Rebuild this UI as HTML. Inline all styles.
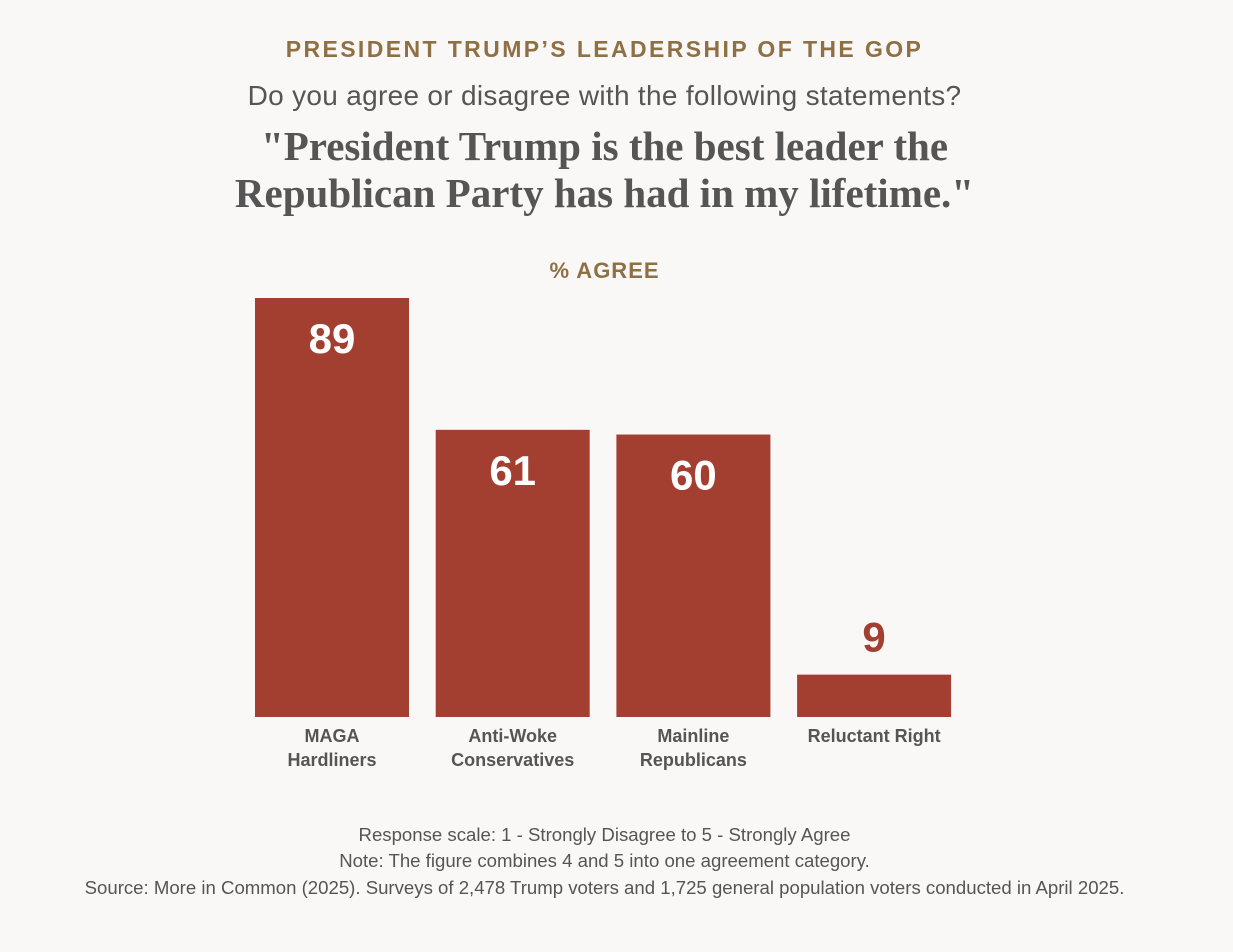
<!DOCTYPE html>
<html><head><meta charset="utf-8"><style>
body{margin:0;background:#f9f8f6;width:1233px;height:952px;overflow:hidden;position:relative;font-family:"Liberation Sans",sans-serif}
.t{position:absolute;left:0;width:1233px;text-align:center;white-space:nowrap}
</style></head><body>
<div class="t" style="left:-12px;top:36px;font-size:23px;font-weight:bold;color:#8f7045;letter-spacing:2.4px">PRESIDENT TRUMP’S LEADERSHIP OF THE GOP</div>
<div class="t" style="left:-12px;top:80px;font-size:28px;color:#555;letter-spacing:0.3px">Do you agree or disagree with the following statements?</div>
<div class="t" style="left:-12px;top:123px;font-family:'Liberation Serif',serif;font-weight:bold;font-size:41px;line-height:47px;color:#555">"President Trump is the best leader the<br>Republican Party has had in my lifetime."</div>
<div class="t" style="left:-12px;top:258px;font-size:22px;font-weight:bold;color:#8f7045;letter-spacing:1px">% AGREE</div>
<svg id="chart" width="1233" height="952" style="position:absolute;left:0;top:0"></svg>
<div class="t" style="left:-12px;top:824px;font-size:18.6px;color:#555">Response scale: 1 - Strongly Disagree to 5 - Strongly Agree</div>
<div class="t" style="left:-12px;top:850px;font-size:18.6px;color:#555">Note: The figure combines 4 and 5 into one agreement category.</div>
<div class="t" style="left:-12px;top:877px;font-size:18.6px;color:#555">Source: More in Common (2025). Surveys of 2,478 Trump voters and 1,725 general population voters conducted in April 2025.</div>
<script>
const categories=[["MAGA","Hardliners"],["Anti-Woke","Conservatives"],["Mainline","Republicans"],["Reluctant Right"]];
const values=[89,61,60,9];
const labels=["89","61","60","9"];
const svg=document.getElementById('chart');
const NS='http://www.w3.org/2000/svg';
const base=717,pxPer=419/89,x0=255,step=180.7,bw=154;
const y=v=>base-v*pxPer;
const x=i=>x0+i*step;
values.forEach((v,i)=>{
  const r=document.createElementNS(NS,'rect');
  r.setAttribute('x',x(i));r.setAttribute('y',y(v));r.setAttribute('width',bw);r.setAttribute('height',base-y(v));r.setAttribute('fill','#a33f30');
  
  
  svg.appendChild(r);
  const inside=(base-y(v))>80;
  const t=document.createElementNS(NS,'text');
  t.setAttribute('x',x(i)+bw/2);t.setAttribute('y',inside?y(v)+55:y(v)-23);
  t.setAttribute('text-anchor','middle');t.setAttribute('font-size','42');t.setAttribute('font-weight','bold');
  t.setAttribute('font-family','Liberation Sans, sans-serif');t.setAttribute('fill',inside?'#fff':'#a33f30');
  t.textContent=labels[i];
  
  
  svg.appendChild(t);
  categories[i].forEach((line,j)=>{
    const c=document.createElementNS(NS,'text');
    c.setAttribute('x',x(i)+bw/2);c.setAttribute('y',742+j*24);
    c.setAttribute('text-anchor','middle');c.setAttribute('font-size','18');c.setAttribute('font-weight','bold');
    c.setAttribute('font-family','Liberation Sans, sans-serif');c.setAttribute('fill','#555');
    c.textContent=line;
    
    
    svg.appendChild(c);
  });
});
</script>
</body></html>
